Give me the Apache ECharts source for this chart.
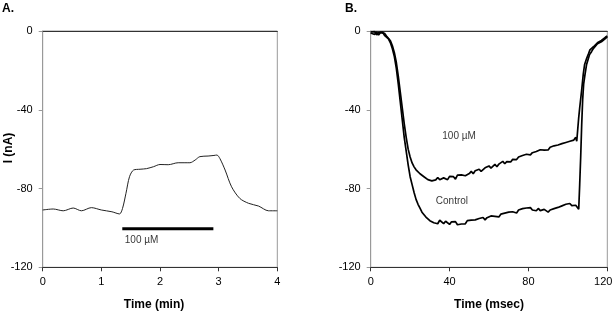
<!DOCTYPE html>
<html>
<head>
<meta charset="utf-8">
<script src="https://cdn.jsdelivr.net/npm/echarts@6/dist/echarts.min.js"></script>
<style>
html,body{margin:0;padding:0;background:#fff;}
#chart{width:612px;height:313px;}
</style>
</head>
<body>
<div id="chart"></div>
<script>
// ---- Panel A: current vs time (min) ----
const timeA = [0, 0.18, 0.35, 0.52, 0.66, 0.83, 1.0, 1.18, 1.31, 1.36, 1.42, 1.48, 1.55, 1.66, 1.77, 1.89, 2.0, 2.14, 2.31, 2.51, 2.6, 2.68, 2.82, 2.92, 2.97, 3.02, 3.11, 3.22, 3.36, 3.51, 3.68, 3.85, 4.0];
const currentA = [-90.9, -90.4, -91.3, -89.9, -91.3, -89.7, -90.9, -91.8, -92.9, -90.2, -82.4, -74, -70.6, -70.2, -69.9, -68.9, -67.8, -67.9, -66.9, -66.9, -65.5, -63.8, -63.5, -63.2, -63, -64.7, -70.6, -79.1, -85, -87.5, -88.9, -91.3, -91.3];
const barA = {start: 1.357, end: 2.91, level: -100.4};
const labelA = {t: 1.40, v: -106.1, text: '100 µM'};

// ---- Panel B: current vs time (msec) ----
const controlT = [0,1,2,3,4,5,6,7,8,9,10,11,12,13,14,15,16,17,18,19,20,21,22,23,24,25,26,27,28,29,30,31,32,33,34,35,36,37,38,39,40,41,42,43,44,45,46,47,48,49,50,51,52,53,54,55,56,57,58,59,60,61,62,63,64,65,66,67,68,69,70,71,72,73,74,75,76,77,78,79,80,81,82,83,84,85,86,87,88,89,90,91,92,93,94,95,96,97,98,99,100,101,102,103,104,105,105.5,106,106.5,107,107.5,108,108.7,109.5,110.4,111,112,113,114,115,116,117,118,119,120];
const controlI = [-0.5,-1.5,-0.3,-2,-0.8,-1.8,-0.5,-2.2,-2.5,-4,-6,-9,-13,-19,-27,-36,-45,-54,-61,-68,-74,-78,-82,-85.5,-88,-90,-92,-93,-94.5,-95,-96.3,-95.6,-97.4,-96.5,-97.9,-96.1,-97.0,-97.8,-96.6,-97.3,-98.2,-96.9,-97.6,-96.8,-98.4,-97.5,-98.0,-97.1,-97.9,-96.3,-97.2,-96.0,-96.8,-95.9,-96.9,-95.2,-95.8,-94.7,-95.9,-94.8,-95.3,-93.9,-94.8,-94.1,-93.4,-94.4,-93.0,-93.7,-92.5,-93.3,-92.0,-92.9,-91.8,-91.3,-92.4,-90.9,-91.4,-90.2,-91.0,-89.9,-90.6,-89.7,-90.9,-90.3,-91.3,-90.1,-91.2,-91.8,-90.6,-91.4,-92.0,-90.9,-91.7,-90.2,-91.0,-89.6,-90.3,-88.8,-89.6,-88.0,-88.9,-87.6,-88.7,-87.9,-88.5,-87.8,-90.5,-78,-64,-48,-35,-27,-22,-17,-14,-12,-10.5,-8.8,-8,-6.5,-7,-5.5,-5.5,-3.8,-3];
const drugT = [0,1,2,3,4,5,6,7,8,9,10,11,12,13,14,15,16,17,18,19,20,21,22,23,24,25,26,27,28,29,30,31,32,33,34,35,36,37,38,39,40,41,42,43,44,45,46,47,48,49,50,51,52,53,54,55,56,57,58,59,60,61,62,63,64,65,66,67,68,69,70,71,72,73,74,75,76,77,78,79,80,81,82,83,84,85,86,87,88,89,90,91,92,93,94,95,96,97,98,99,100,101,102,103,104,104.5,105,105.5,106,107,107.8,108.5,109.5,110.5,111.2,112,113,114,115,116,117,118,119,120];
const drugI = [-1,-0.3,-1.8,-0.5,-2,-0.8,-1.5,-1.2,-2.5,-3.5,-5,-7.5,-11,-16,-23,-31,-39,-47,-54,-60,-64,-67,-69,-70.5,-71.5,-72.5,-73,-74,-74.5,-75.5,-75.0,-76.1,-75.2,-75.6,-74.4,-75.5,-76.2,-74.6,-75.0,-75.5,-73.8,-74.8,-74.0,-75.2,-73.2,-73.9,-73.1,-72.2,-73.5,-72.8,-72.4,-71.3,-72.5,-71.0,-71.6,-70.2,-71.3,-70.4,-69.5,-70.3,-68.5,-69.6,-68.8,-67.7,-68.9,-67.6,-67.1,-66.2,-67.4,-66.3,-65.5,-66.5,-65.2,-64.4,-65.3,-64.0,-64.7,-63.2,-63.9,-62.6,-63.5,-62.9,-61.8,-62.6,-61.2,-61.5,-60.3,-61.3,-60.5,-59.6,-60.4,-59.0,-59.5,-58.3,-59.2,-57.9,-58.4,-57.2,-58.0,-56.6,-57.3,-56.0,-56.8,-55.4,-54.0,-56,-50,-44,-39,-30,-22,-17,-14,-11.5,-9.6,-8.8,-8,-7.5,-6,-6.2,-4.8,-4.5,-3.2,-2.5];
const labelsB = [{t: 44.8, v: -53.3, text: '100 µM'}, {t: 41.2, v: -86.3, text: 'Control'}];

// tick settings
const xTicksA = {min: 0, max: 4, interval: 1};
const xTicksB = {min: 0, max: 120, interval: 40};
const yTicks = {min: -120, max: 0, interval: 40};

const zip = (a, b) => a.map((x, i) => [x, b[i]]);
const FONT = 'Liberation Sans, Arial, sans-serif';
const NARROW = '"Liberation Sans Narrow", "Arial Narrow", "Liberation Sans", Arial, sans-serif';

function bottomAxis(idx, ticks, name, namePad) {
  return {
    gridIndex: idx, type: 'value', min: ticks.min, max: ticks.max, interval: ticks.interval,
    position: 'bottom',
    axisLine: {onZero: false, lineStyle: {color: '#333', width: 1}},
    axisTick: {show: true, inside: false, length: 4, lineStyle: {color: '#333'}},
    axisLabel: {
      color: '#000', fontSize: 11, fontFamily: NARROW, margin: 9,
      formatter: v => v === ticks.max && idx === 1 ? '{r|' + v + '}' : String(v),
      rich: {r: {fontSize: 11, fontFamily: NARROW, color: '#000', padding: [0, 8, 0, 0]}}
    },
    splitLine: {show: false},
    name: name, nameLocation: 'middle', nameGap: 31,
    nameTextStyle: {color: '#000', fontSize: 12, fontWeight: 'bold', fontFamily: FONT, padding: namePad}
  };
}
function topAxis(idx, ticks) {
  return {
    gridIndex: idx, type: 'value', min: ticks.min, max: ticks.max, position: 'top',
    axisLine: {onZero: false, lineStyle: {color: '#333', width: 1}},
    axisTick: {show: false}, axisLabel: {show: false}, splitLine: {show: false}
  };
}
function leftAxis(idx) {
  return {
    gridIndex: idx, type: 'value', min: yTicks.min, max: yTicks.max, interval: yTicks.interval,
    axisLine: {onZero: false, lineStyle: {color: '#999', width: 1}},
    axisTick: {show: true, inside: false, length: 4, lineStyle: {color: '#999'}},
    axisLabel: {color: '#000', fontSize: 11, fontFamily: NARROW, margin: 10},
    splitLine: {show: false}
  };
}

const chart = echarts.init(document.getElementById('chart'), null, {renderer: 'canvas'});
chart.setOption({
  animation: false,
  backgroundColor: '#fff',
  graphic: [
    {type: 'text', left: 2, top: 3, style: {text: 'A.', fontSize: 12, fontWeight: 'bold', fontFamily: FONT, fill: '#000'}},
    {type: 'text', left: 345, top: 3, style: {text: 'B.', fontSize: 12, fontWeight: 'bold', fontFamily: FONT, fill: '#000'}},
    {type: 'text', x: 8.5, y: 148, rotation: Math.PI / 2,
     style: {text: 'I (nA)', align: 'center', verticalAlign: 'middle', fontSize: 12, fontWeight: 'bold', fontFamily: FONT, fill: '#000'}}
  ],
  grid: [
    {left: 42.7, top: 31, width: 234.6, height: 236.3, show: true, borderColor: '#999', borderWidth: 1, containLabel: false, outerBoundsMode: 'none'},
    {left: 370.7, top: 31, width: 236.6, height: 236.3, show: true, borderColor: '#999', borderWidth: 1, containLabel: false, outerBoundsMode: 'none'}
  ],
  xAxis: [
    bottomAxis(0, xTicksA, 'Time (min)', [0, 12, 0, 0]),
    bottomAxis(1, xTicksB, 'Time (msec)', [0, 0, 0, 0]),
    topAxis(0, xTicksA),
    topAxis(1, xTicksB)
  ],
  yAxis: [
    leftAxis(0),
    leftAxis(1)
  ],
  series: [
    {type: 'line', xAxisIndex: 0, yAxisIndex: 0, data: zip(timeA, currentA), smooth: 0.3,
     showSymbol: false, lineStyle: {color: '#222', width: 1}},
    {type: 'line', xAxisIndex: 0, yAxisIndex: 0,
     data: [[barA.start, barA.level], [barA.end, barA.level]],
     showSymbol: false, lineStyle: {color: '#000', width: 3}},
    {type: 'scatter', xAxisIndex: 0, yAxisIndex: 0, symbolSize: 0,
     data: [[labelA.t, labelA.v]],
     label: {show: true, position: 'right', distance: 0, formatter: labelA.text, color: '#000', fontSize: 10, fontFamily: NARROW}},
    {type: 'line', xAxisIndex: 1, yAxisIndex: 1, data: zip(controlT, controlI),
     showSymbol: false, lineStyle: {color: '#000', width: 1.7}},
    {type: 'line', xAxisIndex: 1, yAxisIndex: 1, data: zip(drugT, drugI),
     showSymbol: false, lineStyle: {color: '#000', width: 1.7}},
    {type: 'scatter', xAxisIndex: 1, yAxisIndex: 1, symbolSize: 0,
     data: labelsB.map(l => ({value: [l.t, l.v], label: {formatter: l.text}})),
     label: {show: true, position: 'inside', color: '#000', fontSize: 10, fontFamily: NARROW}}
  ]
});
</script>
</body>
</html>
